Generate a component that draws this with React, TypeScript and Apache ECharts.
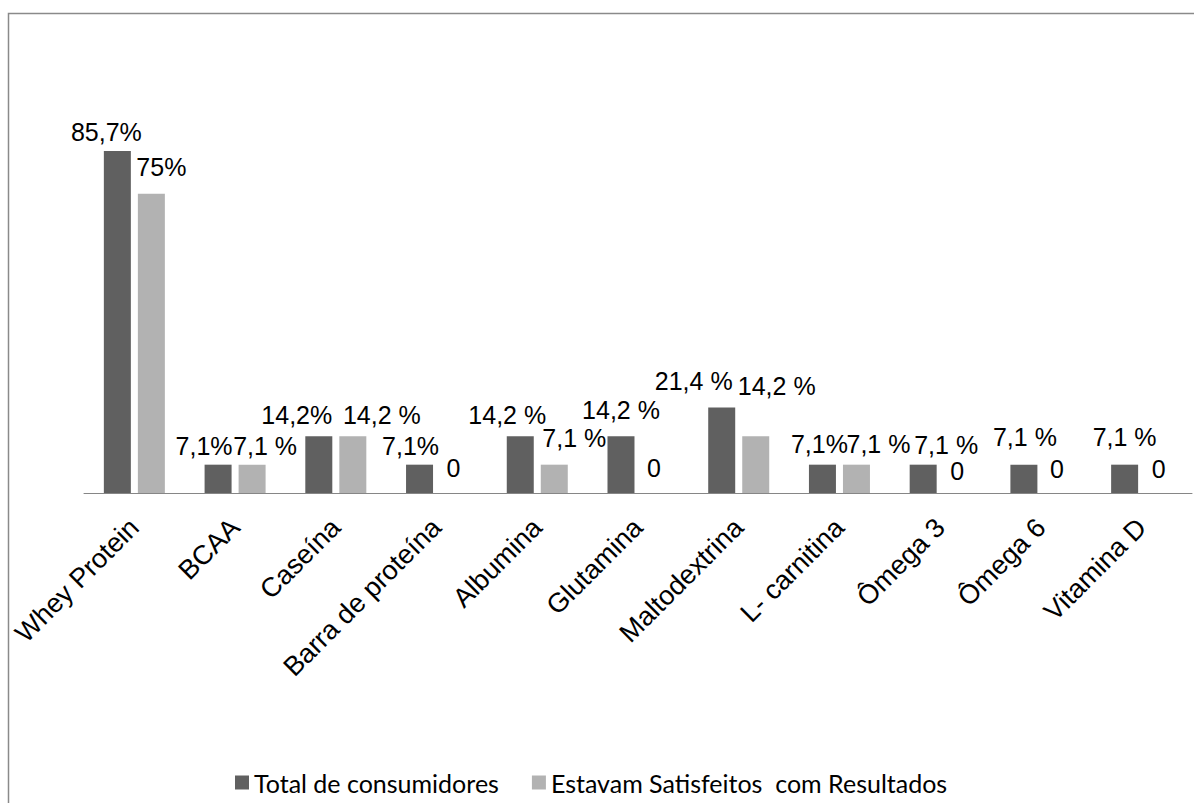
import React, { useEffect, useRef } from "react";
import * as echarts from "echarts";

const categories = [
  "Whey Protein",
  "BCAA",
  "Caseína",
  "Barra de proteína",
  "Albumina",
  "Glutamina",
  "Maltodextrina",
  "L- carnitina",
  "Ômega 3",
  "Ômega 6",
  "Vitamina D",
];
const seriesNames = ["Total de consumidores", "Estavam Satisfeitos  com Resultados"];
const totalValues = [85.7, 7.1, 14.2, 7.1, 14.2, 14.2, 21.4, 7.1, 7.1, 7.1, 7.1];
const satisfiedValues = [75, 7.1, 14.2, 0, 7.1, 0, 14.2, 7.1, 0, 0, 0];
const totalLabels = ["85,7%", "7,1%", "14,2%", "7,1%", "14,2 %", "14,2 %", "21,4 %", "7,1%", "7,1 %", "7,1 %", "7,1 %"];
const satisfiedLabels = ["75%", "7,1 %", "14,2 %", "0", "7,1 %", "0", "14,2 %", "7,1 %", "0", "0", "0"];

// label placement tweaks (style only)
const totalLabelOffsets = [
  [-11, -2], [-14, -1], [-22, -4], [-9, -1], [-13, -4], [0, -9], [-28, -9], [-3, -3], [23, -2.5], [1, -10], [0, -10],
];
const satisfiedLabelOffsets = [
  [10, -9], [13, -1], [29, -4], [0, -8], [20, -9], [-1, -8], [21, -33], [22, -3], [0, -4.5], [-1, -7], [0, -7],
];

const DARK = "#606060";
const LIGHT = "#b2b2b2";

export default function App() {
  const ref = useRef<HTMLDivElement>(null);

  useEffect(() => {
    if (!ref.current) return;
    const chart = echarts.init(ref.current, undefined, { renderer: "svg" });

    const mk = (vals: number[], labels: string[], offs: number[][]) =>
      vals.map((v, i) => ({
        value: v,
        label: { formatter: labels[i], offset: offs[i] },
      }));

    const labelStyle = {
      show: true,
      position: "top" as const,
      distance: 7.5,
      color: "#000",
      fontFamily: "Liberation Sans, Arial, sans-serif",
      fontSize: 25,
      lineHeight: 20,
    };

    chart.setOption({
      animation: false,
      backgroundColor: "#ffffff",
      graphic: [
        {
          type: "rect",
          shape: { x: 8.5, y: 13.5, width: 1250, height: 850 },
          style: { fill: "none", stroke: "#8a8a8a", lineWidth: 1.5 },
          silent: true,
        },
      ],
      legend: {
        data: seriesNames,
        left: 230,
        top: 765,
        itemWidth: 14,
        itemHeight: 14,
        itemGap: 33,
        icon: "rect",
        textStyle: { fontFamily: "Lato, sans-serif", fontSize: 25, color: "#000" },
      },
      grid: { left: 84, right: 2, top: 94, bottom: 310, containLabel: false },
      xAxis: {
        type: "category",
        data: categories,
        axisLine: { show: true, lineStyle: { color: "#868686", width: 1 } },
        axisTick: { show: false },
        axisLabel: {
          interval: 0,
          rotate: 45,
          margin: 30,
          color: "#000",
          fontFamily: "Liberation Sans, Arial, sans-serif",
          fontSize: 27,
        },
      },
      yAxis: {
        type: "value",
        min: 0,
        max: 100,
        show: false,
        splitLine: { show: false },
      },
      series: [
        {
          name: seriesNames[0],
          type: "bar",
          barWidth: 27,
          barGap: "26%",
          itemStyle: { color: DARK },
          label: labelStyle,
          data: mk(totalValues, totalLabels, totalLabelOffsets),
        },
        {
          name: seriesNames[1],
          type: "bar",
          barWidth: 27,
          barGap: "26%",
          itemStyle: { color: LIGHT },
          label: labelStyle,
          data: mk(satisfiedValues, satisfiedLabels, satisfiedLabelOffsets),
        },
      ],
    });

    return () => chart.dispose();
  }, []);

  return (
    <div
      ref={ref}
      style={{ position: "fixed", left: 0, top: 0, width: 1194, height: 803, background: "#fff" }}
    />
  );
}
